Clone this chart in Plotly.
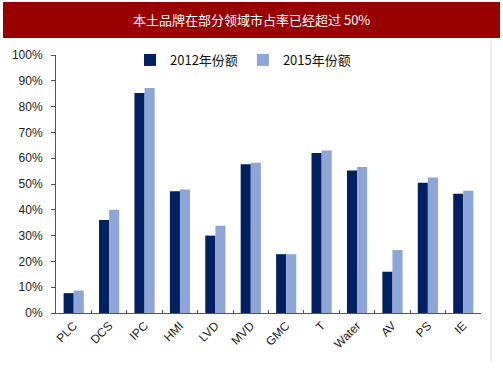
import plotly.graph_objects as go

categories = ["PLC", "DCS", "IPC", "HMI", "LVD", "MVD", "GMC", "T", "Water", "AV", "PS", "IE"]
share_2012 = [7.7, 36, 85.3, 47.2, 30, 57.7, 22.8, 62, 55.2, 16, 50.5, 46.2]
share_2015 = [8.7, 40, 87.2, 47.9, 33.8, 58.2, 22.8, 63, 56.6, 24.4, 52.5, 47.4]
series_names = ["2012年份额", "2015年份额"]
y_ticks = list(range(0, 101, 10))
title_text = "本土品牌在部分领域市占率已经超过 50%"

FONT = "Liberation Sans, Arial, Noto Sans CJK SC, sans-serif"

W, H = 503, 378
L, R, T, B = 56, 481, 55, 313

def px(x):
    return (x - L) / (R - L)

def py(y):
    return (B - y) / (B - T)

fig = go.Figure()
fig.add_trace(go.Bar(x=categories, y=share_2012, name=series_names[0],
                     marker=dict(color="#002060", line=dict(width=0))))
fig.add_trace(go.Bar(x=categories, y=share_2015, name=series_names[1],
                     marker=dict(color="#8EA5D8", line=dict(width=0))))

fig.update_layout(
    width=W, height=H,
    margin=dict(l=L, r=W - R, t=T, b=H - B, autoexpand=False),
    paper_bgcolor="white", plot_bgcolor="white",
    barmode="group", bargap=0.43, bargroupgap=0,
    font=dict(family=FONT, size=12, color="#222222"),
    showlegend=True,
    legend=dict(orientation="h", x=px(130), xanchor="left", y=py(60), yanchor="middle",
                font=dict(family="Noto Sans CJK SC, Liberation Sans, sans-serif", size=13, color="#111111"),
                itemwidth=30, bgcolor="rgba(0,0,0,0)", traceorder="normal"),
    xaxis=dict(showgrid=False, showline=True, linecolor="#555555", linewidth=1,
               ticks="inside", tickson="boundaries", ticklen=3, tickcolor="#555555",
               tickangle=-45, tickfont=dict(size=12, color="#222222")),
    yaxis=dict(range=[0, 100], tickvals=y_ticks, ticktext=[f"{v}%" for v in y_ticks],
               showgrid=False, zeroline=False, showline=True, linecolor="#555555", linewidth=1,
               ticks="outside", ticklen=4, tickcolor="#555555", ticklabelstandoff=6,
               tickfont=dict(size=12, color="#222222")),
    shapes=[
        dict(type="rect", xref="paper", yref="paper", x0=px(3), x1=px(500), y0=py(38), y1=py(2),
             fillcolor="#990000", line=dict(width=0), layer="above"),
        dict(type="line", xref="paper", yref="paper", x0=px(491), x1=px(491), y0=py(362), y1=py(38),
             line=dict(color="#E0E0E0", width=1)),
    ],
    annotations=[
        dict(text=title_text, xref="paper", yref="paper", x=px(251), y=py(20),
             xanchor="center", yanchor="middle", showarrow=False,
             font=dict(family="Noto Sans CJK SC, sans-serif", size=13, color="white")),
    ],
)

fig.write_html("out.html", config={"displayModeBar": False},
               post_script="document.body.style.margin='0';document.body.style.overflow='hidden';")
